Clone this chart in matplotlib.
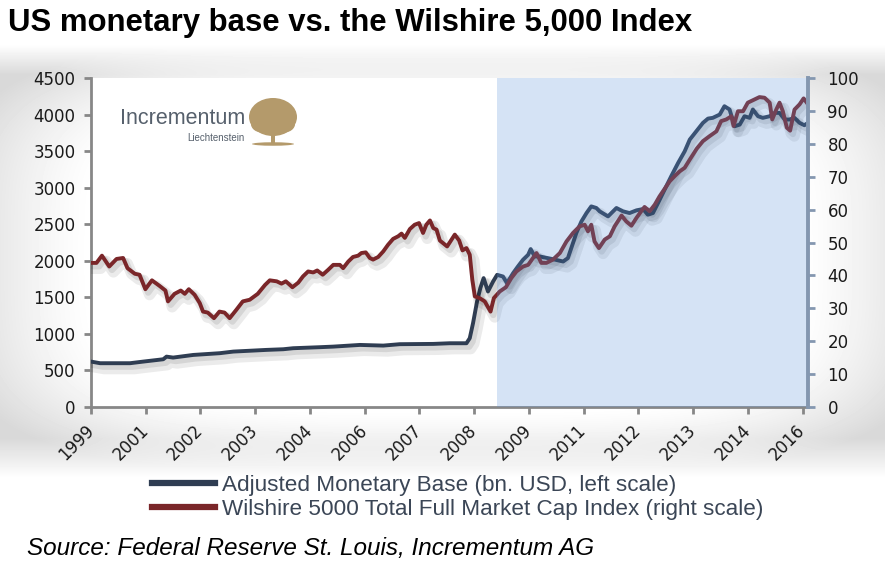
import matplotlib
matplotlib.use("Agg")
import matplotlib.pyplot as plt
import numpy as np
from matplotlib import patheffects as pe
from matplotlib.lines import Line2D
from matplotlib.patches import Ellipse, Rectangle

# ---------------- data (x = months since start of series) ----------------
wil_m = [0, 1.5, 3, 5, 7, 8.8, 10, 12, 13.3, 14.9, 16.7, 18.8, 20.4, 21.1, 22.9, 24.6, 25.7, 26.8,
         28.4, 29.8, 30.7, 32, 33.7, 35.2, 36.6, 38, 39.8, 41.6, 43.5, 45.7, 47.7, 49.0, 50.9, 52.2,
         53.4, 55.2, 56.8, 58.1, 59.5, 60.9, 62.0, 63.5, 65.0, 66.4, 68.2, 69.1, 70.5, 71.8, 73.2,
         74.1, 75.3, 76.4, 77.3, 78.7, 80.1, 81.4, 82.8, 84.2, 85.1, 86.0, 87.4, 88.7, 89.9, 91.0,
         91.9, 92.9, 93.8, 94.7, 95.6, 97.6, 99.7, 100.9, 101.8, 102.9, 103.8, 104.5, 105.2, 106.5,
         107.9, 109.5, 110.4, 112.0, 113.7, 115.2, 116.6, 118.4, 119.8, 122.1, 123.4, 124.8, 126.6,
         128.5, 130.3, 132.1, 133.9, 135.3, 136.2, 137.1, 138.0, 139.2, 140.8, 142.2, 143.5, 145.4,
         146.7, 148.1, 149.5, 150.8, 151.7, 153.1, 154.5, 155.8, 157.2, 158.6, 159.9, 161.3, 162.7,
         164.1, 166.0, 167.7, 169.5, 171.4, 172.7, 174.1, 175.5, 176.1, 177.3, 178.7, 180.0, 181.9,
         183.2, 184.6, 186.0, 186.7, 187.8, 188.7, 189.6, 190.7, 191.6, 192.8, 194.2, 195.3, 196.5]
wil_v = [43.8, 43.8, 46.0, 42.7, 45.0, 45.3, 42.2, 40.5, 40.2, 35.8, 38.5, 36.8, 35.4, 32.1, 34.4,
         35.4, 34.4, 35.8, 34.1, 31.6, 29.0, 28.7, 27.0, 29.0, 28.7, 27.0, 29.5, 32.1, 32.6, 34.4,
         37.1, 38.5, 38.2, 37.5, 38.2, 36.4, 37.8, 39.7, 41.2, 40.9, 41.5, 40.2, 41.7, 43.2, 43.2,
         42.2, 44.2, 45.6, 46.0, 46.8, 47.0, 45.3, 44.8, 45.6, 47.3, 49.3, 51.1, 51.9, 52.7, 51.4,
         54.1, 55.4, 55.9, 52.9, 55.4, 56.7, 54.4, 53.9, 50.6, 48.8, 52.4, 50.6, 47.6, 48.3, 46.3,
         38.7, 33.6, 33.1, 32.1, 29.0, 33.1, 35.1, 36.4, 39.2, 41.2, 42.7, 43.2, 46.8, 43.8, 43.8,
         44.8, 46.8, 50.3, 52.9, 54.9, 55.4, 53.4, 55.4, 50.3, 48.3, 50.9, 51.9, 54.9, 58.2, 56.4,
         55.1, 57.5, 59.5, 60.8, 59.5, 61.5, 64.0, 66.3, 68.6, 70.1, 71.6, 72.7, 75.2, 78.5, 80.8,
         82.3, 83.8, 86.9, 87.4, 88.4, 85.4, 89.9, 89.9, 92.5, 93.5, 94.2, 94.0, 92.5, 87.4, 90.4,
         92.5, 89.9, 84.9, 84.0, 90.4, 92.0, 93.8, 92.0]

mb_m = [0, 2.5, 10.7, 14.3, 19.8, 20.7, 22.5, 28.0, 35.3, 39.0, 48.1, 52.7, 55.4, 62.7, 66.4, 73.7,
        80.1, 84.6, 93.8, 98.3, 102.9, 103.8, 104.7, 105.8, 106.7, 107.6, 108.8, 110.2, 111.3,
        112.9, 114.0, 115.7, 117.0, 118.4, 119.8, 120.5, 121.6, 123.0, 126.5, 129.4, 130.7, 132.1,
        133.0, 134.4, 135.8, 137.1, 138.5, 139.4, 141.7, 144.0, 145.8, 147.6, 149.5, 151.3, 152.6,
        154.0, 155.4, 157.2, 159.0, 160.9, 162.7, 164.1, 165.9, 167.7, 169.1, 170.4, 172.3, 173.6,
        175.0, 176.4, 177.8, 179.1, 180.5, 181.4, 182.8, 184.1, 186.0, 187.4, 188.7, 190.1, 191.4,
        192.8, 194.2, 195.5, 196.5]
mb_v = [621, 599, 599, 621, 653, 689, 676, 712, 736, 758, 781, 790, 804, 818, 826, 849, 840, 859,
        863, 872, 872, 941, 1147, 1443, 1626, 1763, 1580, 1717, 1808, 1785, 1695, 1832, 1922, 2014,
        2082, 2160, 2059, 2059, 2023, 1990, 2037, 2243, 2379, 2538, 2653, 2744, 2722, 2676, 2607,
        2722, 2676, 2653, 2690, 2708, 2630, 2653, 2790, 2973, 3155, 3338, 3497, 3658, 3772, 3886,
        3945, 3955, 4000, 4114, 4069, 3840, 3863, 3977, 3955, 4069, 3977, 3955, 3977, 4023, 4023,
        3932, 3932, 3955, 3886, 3854, 3886]

tick_months = [0, 15, 30, 45, 60, 75, 90, 105, 120, 135, 150, 165, 180, 195]
tick_labels = ["1999", "2001", "2002", "2003", "2004", "2006", "2007", "2008",
               "2009", "2011", "2012", "2013", "2014", "2016"]
shade_start = 111.2
x_end = 196.5

left_ticks = list(range(0, 4501, 500))
right_ticks = list(range(0, 101, 10))

label_mb = "Adjusted Monetary Base (bn. USD, left scale)"
label_wil = "Wilshire 5000 Total Full Market Cap Index (right scale)"

# ---------------- styling ----------------
BLUE = "#2f3d52"
RED = "#7a2629"
GREY = "#878787"
AXBLUE = "#8497b0"
SANS = ["Liberation Sans", "DejaVu Sans"]

W, H = 885, 567
fig = plt.figure(figsize=(W / 100, H / 100), dpi=100)
fig.patch.set_facecolor("white")

# soft vignette background
bg = fig.add_axes([0, 0, 1, 1], zorder=-10)
bg.axis("off")
yy, xx = np.mgrid[0:H, 0:W]
r = (np.abs((xx - 445) / 470.0) ** 4 + np.abs((yy - 255) / 205.0) ** 4) ** 0.25
shade = 0.15 * np.clip((r - 0.75) / 0.3, 0, 1) ** 1.3
shade *= np.clip((yy - 44) / 30.0, 0, 1) * np.clip((478 - yy) / 40.0, 0, 1)
bg.imshow(1 - shade, cmap="gray", vmin=0, vmax=1, extent=(0, 1, 0, 1),
          aspect="auto", origin="upper", interpolation="bilinear")
bg.set_xlim(0, 1)
bg.set_ylim(0, 1)

L, R, T, B = 91, 808, 78, 407
ax = fig.add_axes([L / W, 1 - B / H, (R - L) / W, (B - T) / H], zorder=1)
ax.set_facecolor("white")
ax.set_xlim(0, x_end)
ax.set_ylim(0, 4500)
ax2 = ax.twinx()
ax2.set_ylim(0, 100)

shadow = [pe.SimpleLineShadow(offset=(3, -4), shadow_color="black", alpha=0.08, linewidth=8),
          pe.SimpleLineShadow(offset=(2, -2.5), shadow_color="black", alpha=0.09, linewidth=4.5),
          pe.Normal()]
ax.plot(mb_m, mb_v, color=BLUE, lw=2.8, solid_joinstyle="round", path_effects=shadow, zorder=3)
ax2.plot(wil_m, wil_v, color=RED, lw=2.8, solid_joinstyle="round", path_effects=shadow, zorder=3)

ax2.axvspan(shade_start, x_end, ymin=0, ymax=1, color=(0.357, 0.576, 0.859), alpha=0.25,
            lw=0, zorder=5)

for s in ["top", "right"]:
    ax.spines[s].set_visible(False)
for s in ["top", "left", "bottom"]:
    ax2.spines[s].set_visible(False)
ax.spines["left"].set_color(GREY)
ax.spines["left"].set_linewidth(2)
ax.spines["bottom"].set_color(GREY)
ax.spines["bottom"].set_linewidth(2)
ax2.spines["right"].set_color(AXBLUE)
ax2.spines["right"].set_linewidth(2.8)
ax2.spines["right"].set_zorder(6)

ax.set_yticks(left_ticks)
ax.set_yticklabels([str(v) for v in left_ticks])
ax2.set_yticks(right_ticks)
ax2.set_yticklabels([str(v) for v in right_ticks])
ax.set_xticks(tick_months)
ax.set_xticklabels(tick_labels, rotation=45, ha="right", va="center", rotation_mode="anchor")

ax.tick_params(axis="y", direction="out", length=5, width=2, color=GREY, labelsize=12,
               labelcolor="#1a1a1a", pad=6)
ax.tick_params(axis="x", direction="out", length=5, width=2, color=GREY, labelsize=12,
               labelcolor="#1a1a1a", pad=10)
ax2.tick_params(axis="y", direction="out", length=5, width=2, color=AXBLUE, labelsize=12,
                labelcolor="#1a1a1a", pad=9)

# title
fig.text(8 / W, 1 - 23 / H, "US monetary base vs. the Wilshire 5,000 Index",
         family=SANS, weight="bold", fontsize=22.4,
         ha="left", va="center", color="black")

# legend
handles = [Line2D([], [], color=BLUE, lw=4.5), Line2D([], [], color=RED, lw=4.5)]
leg = fig.legend(handles, [label_mb, label_wil], loc="upper left",
                 bbox_to_anchor=(152 / W, 1 - 475 / H), frameon=False,
                 handlelength=2.8, handletextpad=0.3, labelspacing=0.12, borderpad=0,
                 borderaxespad=0, prop={"family": SANS, "size": 16.2})
for t in leg.get_texts():
    t.set_color("#3b4656")

# source
fig.text(27 / W, 1 - 548 / H, "Source: Federal Reserve St. Louis, Incrementum AG",
         family=SANS, style="italic", fontsize=17.5, ha="left", va="center", color="black")

# logo overlay
ov = fig.add_axes([0, 0, 1, 1], zorder=10)
ov.set_xlim(0, W)
ov.set_ylim(H, 0)
ov.axis("off")
ov.patch.set_alpha(0)
ov.text(245, 119, "Incrementum", family=SANS, fontsize=15.5, color="#56606c",
        ha="right", va="center")
ov.text(245, 138, "Liechtenstein", family=SANS, fontsize=7, color="#56606c",
        ha="right", va="center")
GOLD = "#b49a6b"
ov.add_patch(Ellipse((273, 117), 48, 38, color=GOLD, lw=0))
ov.add_patch(Ellipse((262, 124), 22, 17, color=GOLD, lw=0))
ov.add_patch(Ellipse((284, 124), 22, 17, color=GOLD, lw=0))
ov.add_patch(Rectangle((271, 126), 3.5, 18, color=GOLD, lw=0))
ov.add_patch(Ellipse((273, 144), 42, 3.5, color=GOLD, lw=0))

fig.savefig("out.png", dpi=100, facecolor="white")
